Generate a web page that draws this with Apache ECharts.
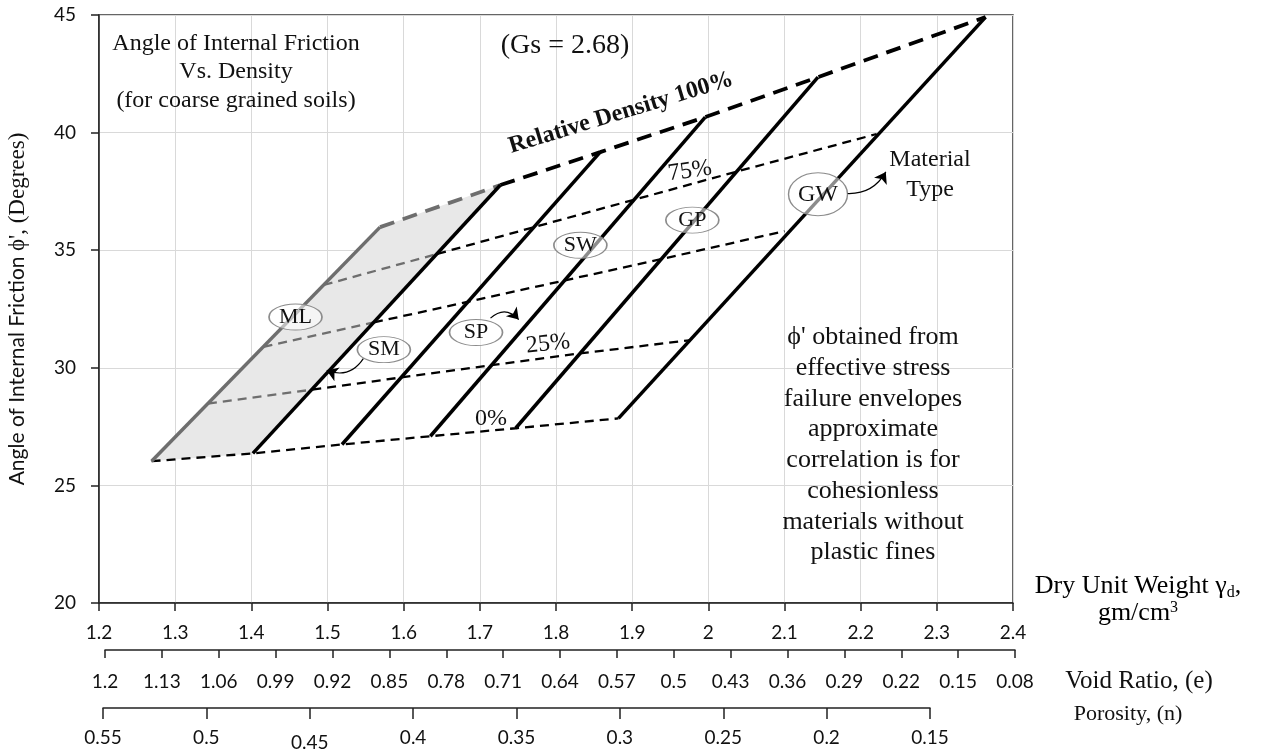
<!DOCTYPE html>
<html>
<head>
<meta charset="utf-8">
<script src="https://cdn.jsdelivr.net/npm/echarts@6/dist/echarts.min.js"></script>
<style>
  html, body { margin: 0; background: #fff; }
  #main { width: 1262px; height: 752px; }
</style>
</head>
<body>
<div id="main"></div>
<script>
// material types (one solid line each, from Dr = 0% up to Dr = 100%)
const materials = ['ML', 'SM', 'SP', 'SW', 'GP', 'GW'];

// dry unit weight (gm/cm3) and phi' (deg) where each material line meets a relative density line
const gamma0   = [1.269, 1.402, 1.519, 1.635, 1.747, 1.882];
const phi0     = [26.03, 26.36, 26.74, 27.09, 27.43, 27.85];
const gamma25  = [1.343, 1.480, 1.597, 1.715, 1.831, 1.975];
const phi25    = [28.48, 29.07, 29.59, 30.11, 30.61, 31.17];
const gamma50  = [1.416, 1.561, 1.685, 1.812, 1.938, 2.100];
const phi50    = [30.89, 31.93, 32.81, 33.72, 34.62, 35.81];
const gamma75  = [1.495, 1.644, 1.771, 1.903, 2.037, 2.221];
const phi75    = [33.52, 34.84, 35.98, 37.15, 38.34, 39.94];
const gamma100 = [1.569, 1.727, 1.858, 1.996, 2.144, 2.364];
const phi100   = [35.98, 37.77, 39.17, 40.66, 42.36, 44.91];

// where the material tags sit
const labelGamma = [1.458, 1.574, 1.695, 1.832, 1.979, 2.144];
const labelPhi   = [32.16, 30.77, 31.50, 35.21, 36.28, 37.38];

// little pointer arrows (SM, SP, GW -> "Material Type")
const arrowFrom = [[1.547, 30.39], [1.714, 32.11], [2.183, 37.41]];
const arrowTo   = [[1.499, 29.89], [1.751, 32.05], [2.233, 38.33]];

// secondary scales under the chart
const voidLabels = ['1.2', '1.13', '1.06', '0.99', '0.92', '0.85', '0.78', '0.71', '0.64',
  '0.57', '0.5', '0.43', '0.36', '0.29', '0.22', '0.15', '0.08'];
const porosityLabels = ['0.55', '0.5', '0.45', '0.4', '0.35', '0.3', '0.25', '0.2', '0.15'];

const serif = '"Liberation Serif", "Times New Roman", serif';
const sans = 'Lato, "Liberation Sans", sans-serif';

function pts(gs, ps, from, to) {
  return gs.slice(from, to).map((g, i) => [g, ps[from + i]]);
}

function txt(x, y, text, font, extra) {
  return Object.assign({
    type: 'text', x: x, y: y, z: 100, silent: true,
    style: Object.assign({
      text: text, font: font, fill: '#111',
      align: 'center', verticalAlign: 'middle', textAlign: 'center', textVerticalAlign: 'middle'
    }, extra && extra.style)
  }, extra && extra.el);
}

let myChart = echarts.init(document.getElementById('main'));

let series = [];

// grey band between ML and SM
series.push({
  type: 'custom',
  z: 1,
  silent: true,
  data: [[gamma0[0], phi0[0]]],
  renderItem: function (params, api) {
    let poly = [
      [gamma0[0], phi0[0]], [gamma100[0], phi100[0]],
      [gamma100[1], phi100[1]], [gamma0[1], phi0[1]]
    ].map(p => api.coord(p));
    return { type: 'polygon', shape: { points: poly }, style: { fill: '#e8e8e8' } };
  }
});

// relative density lines (dashed)
const dens = [
  { g: gamma0, p: phi0, thick: false, greyStart: false },
  { g: gamma25, p: phi25, thick: false, greyStart: true },
  { g: gamma50, p: phi50, thick: false, greyStart: true },
  { g: gamma75, p: phi75, thick: false, greyStart: true },
  { g: gamma100, p: phi100, thick: true, greyStart: true }
];
dens.forEach(d => {
  let style = d.thick
    ? { width: 3.8, type: [15, 9] }
    : { width: 2.3, type: [9, 6] };
  let start = 0;
  if (d.greyStart) {
    series.push({
      type: 'line', z: 2, silent: true, symbol: 'none',
      data: pts(d.g, d.p, 0, 2),
      lineStyle: Object.assign({ color: '#6e6e6e' }, style)
    });
    start = 1;
  }
  series.push({
    type: 'line', z: 2, silent: true, symbol: 'none',
    data: pts(d.g, d.p, start, 6),
    lineStyle: Object.assign({ color: '#000' }, style)
  });
});

// material lines (solid)
materials.forEach((m, i) => {
  series.push({
    name: m,
    type: 'line', z: 3, silent: true, symbol: 'none',
    data: [[gamma0[i], phi0[i]], [gamma100[i], phi100[i]]],
    lineStyle: { color: i === 0 ? '#6e6e6e' : '#000', width: 3.5 }
  });
});

// material tags
series.push({
  type: 'scatter', z: 5, silent: true,
  symbol: 'circle',
  data: labelGamma.map((g, i) => ({
    value: [g, labelPhi[i]],
    symbolSize: i === 5 ? [59, 43] : [53, 26],
    label: { fontSize: i === 5 ? 24 : 22 }
  })),
  itemStyle: { color: 'rgba(255,255,255,0.55)', borderColor: '#8c8c8c', borderWidth: 1.2, opacity: 1 },
  label: {
    show: true, position: 'inside',
    formatter: p => materials[p.dataIndex],
    fontFamily: serif, fontSize: 22, color: '#111'
  }
});

// arrows
const curv = [0.4, 0.5, -0.3];
series.push({
  type: 'lines', coordinateSystem: 'cartesian2d', z: 6, silent: true,
  symbol: ['none', 'arrow'], symbolSize: 11,
  lineStyle: { color: '#000', width: 1.2, opacity: 1 },
  data: arrowFrom.map((f, i) => ({ coords: [f, arrowTo[i]], lineStyle: { curveness: curv[i] } }))
});

const axisLineStyle = { color: '#222', width: 1.5 };
const tickFont = { color: '#111', fontSize: 19, fontFamily: sans };

myChart.setOption({
  animation: false,
  backgroundColor: '#fff',
  grid: [
    { left: 99, right: 249, top: 15, bottom: 149, show: true, borderColor: '#333', borderWidth: 1.5, outerBoundsMode: 'none' },
    { left: 105, right: 247, top: 649, height: 1, outerBoundsMode: 'none' },
    { left: 103, right: 332, top: 707, height: 1, outerBoundsMode: 'none' }
  ],
  xAxis: [
    {
      gridIndex: 0, type: 'value', min: 1.2, max: 2.4, interval: 0.1,
      axisLine: { show: true, lineStyle: axisLineStyle },
      axisTick: { show: true, length: 8, lineStyle: axisLineStyle },
      axisLabel: Object.assign({ margin: 20, showMinLabel: true, showMaxLabel: true }, tickFont),
      splitLine: { show: true, lineStyle: { color: '#d9d9d9', width: 1 } }
    },
    {
      gridIndex: 1, type: 'category', data: voidLabels, boundaryGap: false, position: 'bottom',
      axisLine: { show: true, lineStyle: axisLineStyle },
      axisTick: { show: true, length: 8, interval: 0, lineStyle: axisLineStyle },
      axisLabel: Object.assign({ margin: 22, interval: 0 }, tickFont),
      splitLine: { show: false }
    },
    {
      gridIndex: 2, type: 'category', data: porosityLabels, boundaryGap: false, position: 'bottom',
      axisLine: { show: true, lineStyle: axisLineStyle },
      axisTick: { show: true, length: 11, interval: 0, lineStyle: axisLineStyle },
      axisLabel: Object.assign({
        margin: 20, interval: 0,
        // the 0.45 label sits a little lower in the original
        formatter: (v, i) => i === 2 ? '{low|' + v + '}' : v,
        rich: { low: { fontSize: 19, fontFamily: sans, color: '#111', padding: [5, 0, 0, 0] } }
      }, tickFont),
      splitLine: { show: false }
    }
  ],
  yAxis: [
    {
      gridIndex: 0, type: 'value', min: 20, max: 45, interval: 5,
      name: '{a|Angle of Internal Friction }{b|ϕ\', (Degrees)}',
      nameLocation: 'middle', nameGap: 70, nameRotate: 90,
      nameTextStyle: {
        rich: {
          a: { fontFamily: sans, fontSize: 21, color: '#111' },
          b: { fontFamily: serif, fontSize: 23, color: '#111' }
        }
      },
      axisLine: { show: true, lineStyle: axisLineStyle },
      axisTick: { show: true, length: 8, lineStyle: axisLineStyle },
      axisLabel: Object.assign({ margin: 23 }, tickFont),
      splitLine: { show: true, lineStyle: { color: '#d9d9d9', width: 1 } }
    },
    { gridIndex: 1, type: 'value', show: false },
    { gridIndex: 2, type: 'value', show: false }
  ],
  graphic: [
    txt(236, 72, 'Angle of Internal Friction\nVs. Density\n(for coarse grained soils)', '24px ' + serif,
      { style: { lineHeight: 28.5 } }),
    txt(565, 46, '(Gs = 2.68)', '28px ' + serif),
    txt(621, 113, 'Relative Density 100%', 'bold 24px ' + serif, { el: { rotation: 17 * Math.PI / 180 } }),
    txt(690, 171, '75%', '24px ' + serif, { el: { rotation: 8 * Math.PI / 180 } }),
    txt(548, 344, '25%', '24px ' + serif, { el: { rotation: 6 * Math.PI / 180 } }),
    txt(491, 419, '0%', '24px ' + serif),
    txt(930, 175, 'Material\nType', '24px ' + serif, { style: { lineHeight: 30 } }),
    txt(873, 445, 'ϕ\' obtained from\neffective stress\nfailure envelopes\napproximate\ncorrelation is for\ncohesionless\nmaterials without\nplastic fines',
      '26px ' + serif, { style: { lineHeight: 30.7 } }),
    {
      type: 'text', x: 1138, y: 600, z: 100, silent: true,
      style: {
        text: '{t|Dry Unit Weight γ}{s|d}{t|,}\n{t|gm/cm}{p|3}',
        rich: {
          t: { fontFamily: serif, fontSize: 26, color: '#111', lineHeight: 27 },
          s: { fontFamily: serif, fontSize: 16, color: '#111', padding: [12, 0, 0, 0], lineHeight: 27 },
          p: { fontFamily: serif, fontSize: 16, color: '#111', padding: [0, 0, 11, 0], lineHeight: 27 }
        },
        align: 'center', verticalAlign: 'middle', textAlign: 'center', textVerticalAlign: 'middle'
      }
    },
    txt(1139, 681, 'Void Ratio, (e)', '25px ' + serif),
    txt(1128, 714, 'Porosity, (n)', '22px ' + serif)
  ],
  series: series
});
</script>
</body>
</html>
